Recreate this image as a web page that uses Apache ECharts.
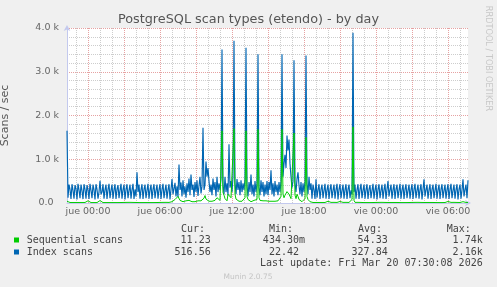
<!DOCTYPE html>
<html><head><meta charset="utf-8">
<script src="https://cdn.jsdelivr.net/npm/echarts@6/dist/echarts.min.js"></script>
<style>html,body{margin:0;padding:0;background:#f0f0f0;}#c{width:497px;height:287px;}</style>
</head><body><div id="c"></div>
<script>
// time axis: 5-minute steps, minutes relative to "jue 00:00"
const startMinutes = -105;
const stepMinutes = 5;
const dayNames = ['mié', 'jue', 'vie'];
const tickLabels = ['jue 00:00', 'jue 06:00', 'jue 12:00', 'jue 18:00', 'vie 00:00', 'vie 06:00'];

const indexScans = [
1650,120,420,310,90,430,290,100,410,320,80,440,300,110,420,280,90,430,310,100,410,
300,90,440,290,110,420,300,80,430,310,100,250,
510,200,250,430,100,300,420,90,310,440,110,290,
420,100,300,430,90,310,410,110,290,440,100,300,
420,80,310,430,110,290,420,100,300,440,90,310,
150,700,250,420,100,300,430,90,310,420,110,290,
440,100,300,420,90,310,430,110,290,420,100,300,
430,90,310,440,110,290,420,100,300,430,80,310,
550,200,330,460,150,380,140,880,300,470,150,520,
200,380,120,450,250,560,180,650,300,420,140,480,
250,520,160,400,600,220,380,1720,300,420,950,600,
800,500,250,420,180,560,300,480,150,600,250,450,
300,550,3510,400,200,600,250,450,180,1340,350,500,
250,600,3710,450,200,550,300,480,180,520,250,450,
300,550,3550,400,150,480,250,650,200,420,150,500,
250,450,3400,350,180,520,250,480,150,420,200,500,
180,480,300,750,200,450,150,500,250,420,180,480,
250,500,3400,600,900,1100,800,1540,1200,1450,900,600,
350,500,3260,450,250,550,700,400,200,480,150,450,
250,500,3370,450,200,600,300,450,100,420,300,90,
540,120,300,430,90,310,420,110,290,440,100,300,
420,90,310,430,110,290,420,100,300,440,80,310,
430,110,290,420,100,300,430,90,310,420,110,290,
200,3890,250,420,100,300,430,90,310,440,110,290,
420,100,300,430,90,310,410,110,290,440,100,300,
420,80,310,430,110,290,420,100,300,440,90,310,
500,150,300,420,100,300,430,90,310,420,110,290,
440,100,300,420,90,310,430,110,290,420,100,300,
430,90,310,440,110,290,420,100,300,430,80,310,
540,150,300,420,100,300,430,90,310,420,110,290,
440,100,300,420,90,310,430,110,290,420,100,300,
430,90,310,440,110,290,420,100,300,430,80,310,
420,100,300,540,150,300,420,110,520
];

const sequentialScans = [
40,50,15,12,10,14,12,10,15,12,10,13,12,10,14,12,11,10,12,13,15,
50,15,12,10,14,12,10,15,12,10,13,12,
55,15,12,10,14,12,10,15,12,10,13,12,
10,14,12,10,15,12,10,13,12,11,10,12,
13,12,10,14,12,10,15,12,10,13,12,11,
12,20,12,10,14,12,10,15,12,10,13,12,
10,14,12,10,15,12,10,13,12,11,10,12,
13,12,10,14,12,10,15,12,10,13,12,11,
30,60,40,80,120,90,150,110,60,40,50,30,
40,30,50,40,30,60,50,40,30,50,40,30,
40,60,50,40,30,50,40,80,110,170,90,60,
50,40,60,50,40,30,50,60,80,120,150,90,
60,80,1650,240,180,100,60,50,200,240,180,120,
150,100,1700,200,90,60,50,40,60,50,40,60,
80,120,1650,150,80,50,40,30,50,40,60,50,
40,80,1680,120,60,40,30,50,40,30,50,40,
30,40,50,60,40,30,50,40,30,40,50,60,
80,150,1680,200,120,180,220,260,240,200,150,100,
80,120,1600,180,100,200,150,80,60,40,30,50,
60,100,1500,150,80,40,30,20,15,12,10,14,
12,10,15,12,10,13,12,11,10,12,13,12,
40,12,10,14,12,10,15,12,10,13,12,11,
35,12,10,14,12,10,15,12,10,13,12,30,
80,1740,60,14,12,10,15,12,10,13,12,11,
10,14,12,10,15,12,10,13,12,11,10,12,
13,12,10,14,12,10,15,12,10,13,12,11,
12,10,15,12,10,13,12,11,10,12,13,12,
10,14,35,10,15,12,10,13,12,11,10,12,
13,12,10,14,12,10,15,12,10,13,12,11,
12,10,15,12,10,13,12,11,10,12,13,12,
10,14,12,10,15,12,10,13,12,11,10,12,
35,12,10,14,12,10,15,12,10,13,12,11,
12,10,15,30,12,10,13,12,11
];

const legendRows = [
  { name: 'Sequential scans', color: '#00cc00', cur: '11.23', min: '434.30m', avg: '54.33', max: '1.74k' },
  { name: 'Index scans', color: '#0066b3', cur: '516.56', min: '22.42 ', avg: '327.84', max: '2.16k' }
];

function pad2(n) { return (n < 10 ? '0' : '') + n; }
const minutesAt = i => startMinutes + i * stepMinutes;
const categories = indexScans.map((_, i) => {
  const t = minutesAt(i);
  const day = Math.floor(t / 1440);
  const m = ((t % 1440) + 1440) % 1440;
  return dayNames[day + 1] + ' ' + pad2(Math.floor(m / 60)) + ':' + pad2(m % 60);
});

const chart = echarts.init(document.getElementById('c'), null, { renderer: 'canvas' });
const axisFont = 'DejaVu Sans';
const mono = "'DejaVu Sans Mono'";
const arrowColor = '#c3c9ee';
const minorGrid = '#cdcdcd';
const majorGrid = '#e6a2a2';

const graphics = [
  { type: 'text', x: 248.5, y: 19.5, style: { text: 'PostgreSQL scan types (etendo) - by day', font: "12.8px 'DejaVu Sans'", fill: '#555', textAlign: 'center', textVerticalAlign: 'middle' } },
  { type: 'text', x: 488, y: 58.5, rotation: -Math.PI / 2, style: { text: 'RRDTOOL / TOBI OETIKER', font: "8.2px 'DejaVu Sans'", fill: '#c8c8c8', textAlign: 'center', textVerticalAlign: 'middle' } },
  { type: 'text', x: 181, y: 229, style: { text: 'Cur:', font: '10px ' + mono, fill: '#444', textVerticalAlign: 'middle' } },
  { type: 'text', x: 269, y: 229, style: { text: 'Min:', font: '10px ' + mono, fill: '#444', textVerticalAlign: 'middle' } },
  { type: 'text', x: 358, y: 229, style: { text: 'Avg:', font: '10px ' + mono, fill: '#444', textVerticalAlign: 'middle' } },
  { type: 'text', x: 446.7, y: 229, style: { text: 'Max:', font: '10px ' + mono, fill: '#444', textVerticalAlign: 'middle' } },
  { type: 'text', x: 482.7, y: 263.5, style: { text: 'Last update: Fri Mar 20 07:30:08 2026', font: '10px ' + mono, fill: '#444', textAlign: 'right', textVerticalAlign: 'middle' } },
  { type: 'text', x: 248, y: 276.7, style: { text: 'Munin 2.0.75', font: "7.5px 'DejaVu Sans'", fill: '#c4c4c4', textAlign: 'center', textVerticalAlign: 'middle' } }
];
legendRows.forEach((r, k) => {
  const y = 240 + k * 12;
  graphics.push({ type: 'rect', shape: { x: 14, y: y - 2.5, width: 5, height: 5 }, style: { fill: r.color } });
  graphics.push({ type: 'text', x: 26.7, y: y, style: { text: r.name, font: '10px ' + mono, fill: '#444', textVerticalAlign: 'middle' } });
  [[r.cur, 210.7], [r.min, 305], [r.avg, 387.7], [r.max, 482.7]].forEach(([t, x]) => {
    const trimmed = t.replace(/ $/, '');
    const xx = t.endsWith(' ') ? x - 6 : x;
    graphics.push({ type: 'text', x: xx, y: y, style: { text: trimmed, font: '10px ' + mono, fill: '#444', textAlign: 'right', textVerticalAlign: 'middle' } });
  });
});

const option = {
  backgroundColor: '#f0f0f0',
  animation: false,
  grid: { left: 67, right: 29, top: 28, height: 175, show: true, backgroundColor: '#ffffff', borderWidth: 0, containLabel: false, outerBoundsMode: 'none' },
  xAxis: [
    {
      type: 'category', data: categories, boundaryGap: false, position: 'bottom',
      axisLine: { show: true, lineStyle: { color: arrowColor, width: 1 }, symbol: ['none', 'arrow'], symbolSize: [5, 6], symbolOffset: [0, 3] },
      axisTick: { show: false },
      axisLabel: {
        interval: (i, v) => tickLabels.includes(v),
        margin: 4, color: '#666', fontFamily: axisFont, fontSize: 9.5
      },
      splitLine: {
        show: true,
        interval: (i) => { const t = minutesAt(i); return t % 60 === 0 && t % 180 !== 0; },
        lineStyle: { color: minorGrid, type: [1, 1], width: 1 }
      }
    },
    {
      type: 'category', data: categories, boundaryGap: false, position: 'bottom',
      axisLine: { show: false }, axisTick: { show: false }, axisLabel: { show: false },
      splitLine: {
        show: true,
        interval: (i) => minutesAt(i) % 180 === 0,
        lineStyle: { color: majorGrid, type: [1, 1], width: 1 }
      }
    }
  ],
  yAxis: {
    type: 'value', min: 0, max: 4000, interval: 1000,
    name: 'Scans / sec', nameLocation: 'middle', nameRotate: 90, nameGap: 56,
    nameTextStyle: { color: '#555', fontFamily: axisFont, fontSize: 11 },
    axisLine: { show: true, lineStyle: { color: arrowColor, width: 1 }, symbol: ['none', 'arrow'], symbolSize: [5, 6], symbolOffset: [0, 3] },
    axisTick: { show: false },
    axisLabel: {
      margin: 8, color: '#666', fontFamily: axisFont, fontSize: 9.5,
      formatter: v => v === 0 ? '{z|0.0}' : (v / 1000).toFixed(1) + ' k',
      rich: { z: { color: '#666', fontFamily: axisFont, fontSize: 9.5, padding: [0, 5.5, 0, 0] } }
    },
    splitLine: { show: true, lineStyle: { color: majorGrid, type: [1, 1], width: 1 } },
    minorTick: { show: false, splitNumber: 5 },
    minorSplitLine: { show: true, lineStyle: { color: minorGrid, type: [1, 1], width: 1 } }
  },
  series: [
    { name: 'Index scans', type: 'line', xAxisIndex: 0, data: indexScans, showSymbol: false, symbol: 'none', sampling: null,
      lineStyle: { color: '#0066b3', width: 1.15 }, itemStyle: { color: '#0066b3' } },
    { name: 'Sequential scans', type: 'line', xAxisIndex: 0, data: sequentialScans, showSymbol: false, symbol: 'none',
      lineStyle: { color: '#00cc00', width: 1 }, itemStyle: { color: '#00cc00' } }
  ],
  graphic: graphics
};
chart.setOption(option);
</script>
</body></html>
